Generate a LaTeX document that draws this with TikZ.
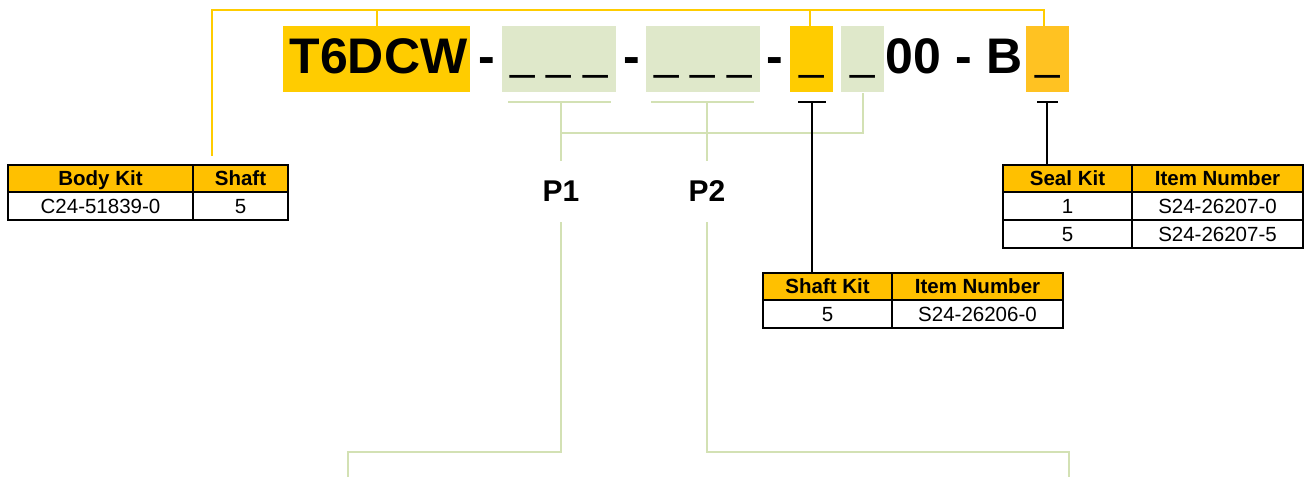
\documentclass[tikz,border=0pt]{standalone}
\usepackage{fontspec}
\setmainfont{Liberation Sans}
\definecolor{ylw}{HTML}{FFCC00}
\definecolor{sealc}{HTML}{FFC222}
\definecolor{hdr}{HTML}{FFC000}
\definecolor{grn}{HTML}{DFE8CA}
\definecolor{grnline}{HTML}{D3E1B4}
\begin{document}
\begin{tikzpicture}[x=1pt,y=-1pt,
  box/.style={inner sep=0, outer sep=0, anchor=north west, minimum height=66},
  big/.style={font=\fontsize{50}{50}\selectfont\bfseries, inner sep=0, outer sep=0, anchor=base},
  blank/.style={font=\fontsize{44}{44}\selectfont, inner sep=0, outer sep=0, anchor=base},
  plabel/.style={font=\fontsize{30}{30}\selectfont\bfseries, inner sep=0, outer sep=0, minimum height=61},
  cell/.style={draw=black, line width=1.5pt, inner sep=0, outer sep=0, anchor=north west,
    text height=14.7pt, text depth=0pt, font=\fontsize{20.5}{20.5}\selectfont},
  hcell/.style={cell, fill=hdr, font=\fontsize{20.5}{20.5}\selectfont\bfseries},
  yline/.style={draw=ylw, line width=2pt},
  gline/.style={draw=grnline, line width=2.2pt},
  kline/.style={draw=black, line width=1.6pt}
]
\useasboundingbox (0,0) rectangle (1308,477);

% ---- code boxes ----
\node[box, fill=ylw, minimum width=187] (t6box) at (283,26) {};
\node[box, fill=grn, minimum width=114] (g1) at (502,26) {};
\node[box, fill=grn, minimum width=114] (g2) at (646,26) {};
\node[box, fill=ylw, minimum width=43] (sh) at (790,26) {};
\node[box, fill=grn, minimum width=43] (g3) at (841,26) {};
\node[box, fill=sealc, minimum width=43] (se) at (1026,26) {};

% ---- code texts ----
\node[big] (tT6) at (378.5,73) {T6DCW};
\node[big] (d1) at (487,73) {-};
\node[big] (d2) at (632,73) {-};
\node[big] (d3) at (774.5,73) {-};
\node[big] (t00) at (913.5,73) {00};
\node[big] (d4) at (964,73) {-};
\node[big] (tB) at (1004.5,73) {B};

\node[blank] (u1) at (559,69.5) {\_ \_ \_};
\node[blank] (u2) at (703,69.5) {\_ \_ \_};
\node[blank] (u3) at (811.5,69.5) {\_};
\node[blank] (u4) at (862.5,69.5) {\_};
\node[blank] (u5) at (1047.5,69.5) {\_};

% ---- P labels ----
\node[plabel] (P1) at (561,191.5) {P1};
\node[plabel] (P2) at (707,191.5) {P2};

% ---- Body kit table ----
\node[hcell, minimum width=185, minimum height=27] (bk1) at (8,165) {Body Kit};
\node[hcell, minimum width=95, minimum height=27] (bk2) at (193,165) {Shaft};
\node[cell, minimum width=185, minimum height=28] (bk3) at (8,192) {C24-51839-0};
\node[cell, minimum width=95, minimum height=28] (bk4) at (193,192) {5};

% ---- Seal kit table ----
\node[hcell, minimum width=129, minimum height=27] (sk1) at (1003,165) {Seal Kit};
\node[hcell, minimum width=171, minimum height=27] (sk2) at (1132,165) {Item Number};
\node[cell, minimum width=129, minimum height=28] (sk3) at (1003,192) {1};
\node[cell, minimum width=171, minimum height=28] (sk4) at (1132,192) {S24-26207-0};
\node[cell, minimum width=129, minimum height=28] (sk5) at (1003,220) {5};
\node[cell, minimum width=171, minimum height=28] (sk6) at (1132,220) {S24-26207-5};

% ---- Shaft kit table ----
\node[hcell, minimum width=129, minimum height=27] (fk1) at (763,273) {Shaft Kit};
\node[hcell, minimum width=171, minimum height=27] (fk2) at (892,273) {Item Number};
\node[cell, minimum width=129, minimum height=28] (fk3) at (763,300) {5};
\node[cell, minimum width=171, minimum height=28] (fk4) at (892,300) {S24-26206-0};

% ---- yellow connectors ----
\coordinate (ytopL) at (212,10);
\coordinate (ytopR) at (1044,10);
\coordinate (ybody) at (212,156);
\draw[yline] (ybody) -- (ytopL) -- (ytopR) -- (ytopR |- se.north);
\draw[yline] (t6box.north -| 377,0) -- (377,10);
\draw[yline] (sh.north -| 810,0) -- (810,10);

% ---- green connectors ----
\coordinate (b1L) at (508,102);
\coordinate (b1R) at (611,102);
\coordinate (b1M) at (561,102);
\coordinate (b2L) at (651,102);
\coordinate (b2R) at (754,102);
\coordinate (b2M) at (707,102);
\coordinate (j1) at (561,133);
\coordinate (g3b) at (863,93);
\draw[gline] (b1L) -- (b1R);
\draw[gline] (b2L) -- (b2R);
\draw[gline] (b1M) -- (P1.north);
\draw[gline] (b2M) -- (P2.north);
\draw[gline] (j1) -- (863,133) -- (g3b);

\coordinate (e1) at (348,477);
\coordinate (e2) at (1069,477);
\draw[gline] (P1.south) -- (561,452) -- (348,452) -- (e1);
\draw[gline] (P2.south) -- (707,452) -- (1069,452) -- (e2);

% ---- black connectors ----
\coordinate (shbL) at (798,102);
\coordinate (shbR) at (826,102);
\coordinate (shbM) at (812,102);
\draw[kline] (shbL) -- (shbR);
\draw[kline] (shbM) -- (fk1.north -| shbM);
\coordinate (sebL) at (1037,102);
\coordinate (sebR) at (1058,102);
\coordinate (sebM) at (1047,102);
\draw[kline] (sebL) -- (sebR);
\draw[kline] (sebM) -- (sk1.north -| sebM);
\end{tikzpicture}
\end{document}
